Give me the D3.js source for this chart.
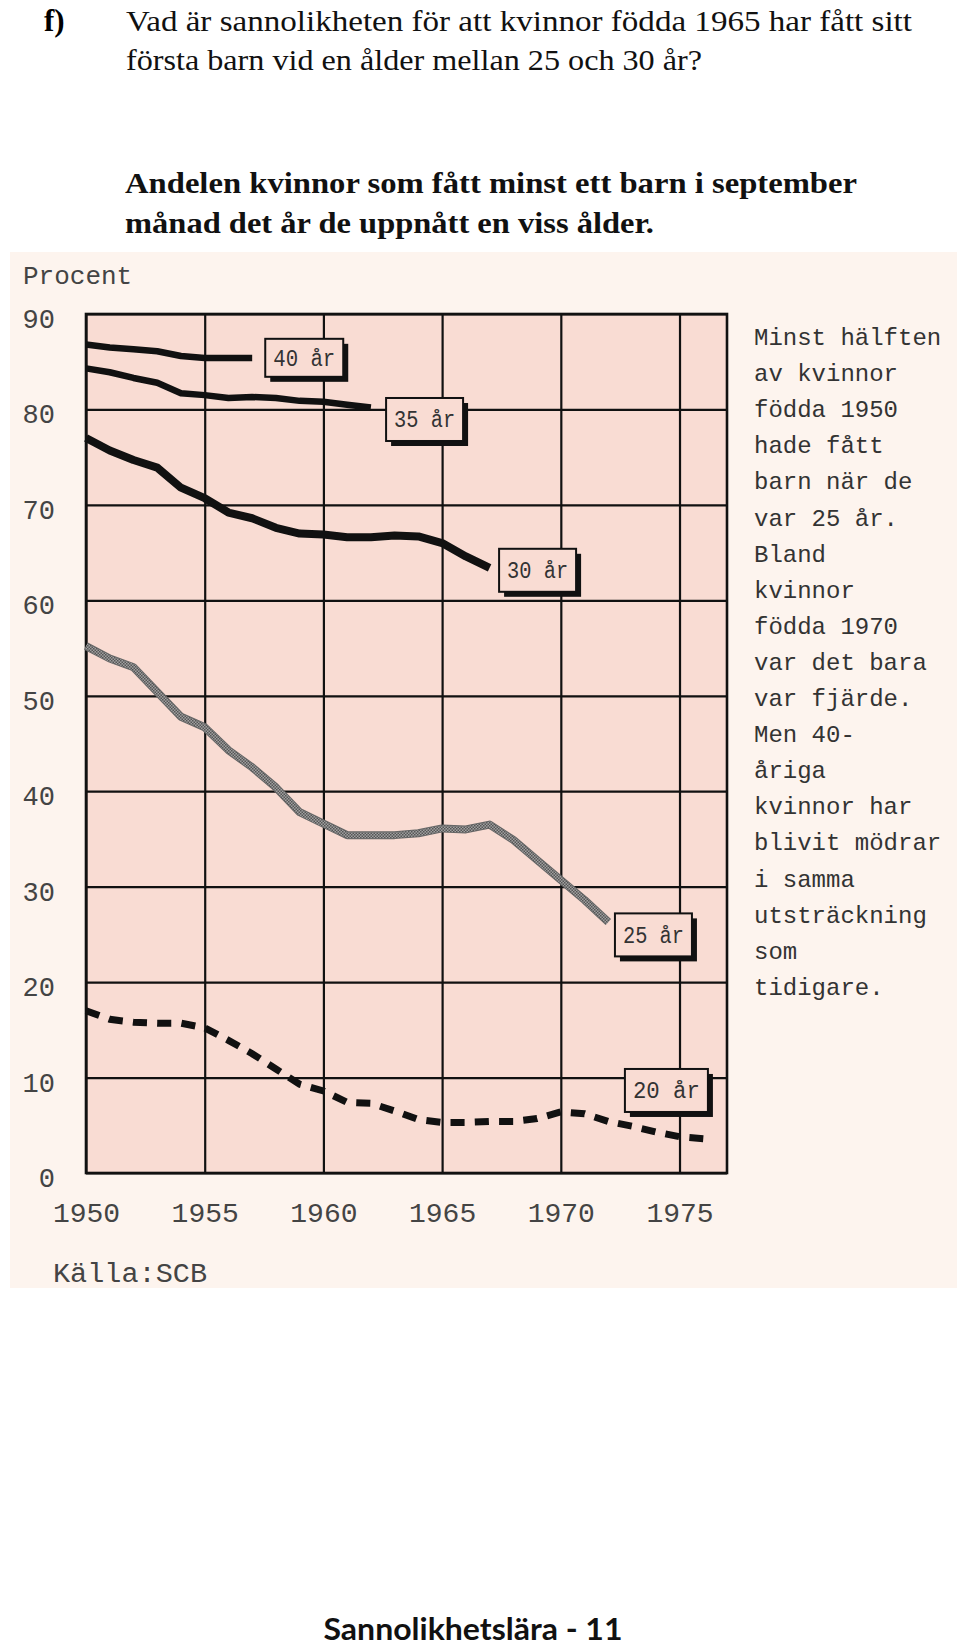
<!DOCTYPE html>
<html><head><meta charset="utf-8">
<script src="https://cdn.jsdelivr.net/npm/d3@7"></script>
<style>html,body{margin:0;padding:0;background:#fff;} svg{display:block;}</style>
</head><body>
<svg id="c" width="960" height="1649"></svg>
<script>
// ---------- data ----------
const years = [1950,1951,1952,1953,1954,1955,1956,1957,1958,1959,1960,1961,1962,1963,1964,1965,1966,1967,1968,1969,1970,1971,1972,1973,1974,1975,1976];
const tickYears = [1950,1955,1960,1965,1970,1975];
const tickValues = [0,10,20,30,40,50,60,70,80,90];
const ageLabels = ["40 år","35 år","30 år","25 år","20 år"];
// percent of women with at least one child, by birth year, at given age
const v40 = [86.8,86.5,86.3,86.1,85.6,85.4,85.4,85.4];
const v35 = [84.3,83.9,83.3,82.8,81.7,81.5,81.2,81.3,81.2,80.9,80.8,80.5,80.2];
const v30 = [77.0,75.7,74.7,73.9,71.8,70.7,69.2,68.6,67.6,67.0,66.9,66.6,66.6,66.8,66.7,66.0,64.6,63.4];
const v25 = [55.2,53.9,53.0,50.4,47.8,46.7,44.3,42.5,40.4,37.8,36.6,35.4,35.4,35.4,35.6,36.1,36.0,36.5,34.9,32.8,30.7,28.6,26.3];
const v20 = [17.0,16.1,15.8,15.7,15.7,15.2,13.9,12.5,10.9,9.3,8.6,7.4,7.3,6.5,5.6,5.3,5.3,5.4,5.4,5.7,6.4,6.2,5.4,4.9,4.3,3.8,3.6];
const questionLines = ["Vad är sannolikheten för att kvinnor födda 1965 har fått sitt","första barn vid en ålder mellan 25 och 30 år?"];
const captionLines = ["Andelen kvinnor som fått minst ett barn i september","månad det år de uppnått en viss ålder."];
const noteLines = ["Minst hälften","av kvinnor","födda 1950","hade fått","barn när de","var 25 år.","Bland","kvinnor","födda 1970","var det bara","var fjärde.","Men 40-","åriga","kvinnor har","blivit mödrar","i samma","utsträckning","som","tidigare."];

// ---------- layout ----------
const svg = d3.select("#c");
const L = 86, R = 727, T = 314, B = 1173;
const x = d3.scaleLinear().domain([1950, 1977]).range([L, R]);
const y = d3.scaleLinear().domain([0, 90]).range([B, T]);
const mono = "'Liberation Mono', 'DejaVu Sans Mono', monospace";
const serif = "'Liberation Serif', 'DejaVu Serif', serif";

// defs: halftone pattern for the grey line
const defs = svg.append("defs");
const pat = defs.append("pattern").attr("id","half").attr("width",3).attr("height",3).attr("patternUnits","userSpaceOnUse");
pat.append("rect").attr("width",3).attr("height",3).attr("fill","#a0a0a0");
pat.append("rect").attr("width",1.5).attr("height",1.5).attr("fill","#555");
pat.append("rect").attr("x",1.5).attr("y",1.5).attr("width",1.5).attr("height",1.5).attr("fill","#555");

// page texts
svg.append("text").attr("x",44).attr("y",31).attr("font-family",serif).attr("font-size",31).attr("font-weight","bold").text("f)");
const qW = [786, 576];
questionLines.forEach((t,i)=>{
  svg.append("text").attr("x",126).attr("y",31+i*39).attr("font-family",serif).attr("font-size",30)
    .attr("textLength",qW[i]).attr("lengthAdjust","spacingAndGlyphs").attr("fill","#111").text(t);
});

// chart panel
svg.append("rect").attr("x",10).attr("y",252).attr("width",947).attr("height",1036).attr("fill","#fdf4ee");

const cW = [732, 529];
captionLines.forEach((t,i)=>{
  svg.append("text").attr("x",125).attr("y",193+i*40).attr("font-family",serif).attr("font-size",29).attr("font-weight","bold")
    .attr("textLength",cW[i]).attr("lengthAdjust","spacingAndGlyphs").attr("fill","#111").text(t);
});

svg.append("text").attr("x",23).attr("y",284).attr("font-family",mono).attr("font-size",26).attr("fill","#444").text("Procent");

// plot background
svg.append("rect").attr("x",L).attr("y",T).attr("width",R-L).attr("height",B-T).attr("fill","#f9dcd3");

// grid via axes
const yAxis = svg.append("g").attr("transform",`translate(${L},0)`)
  .call(d3.axisLeft(y).tickValues(tickValues).tickSize(-(R-L)).tickPadding(31).tickFormat(d3.format("d")));
const xAxis = svg.append("g").attr("transform",`translate(0,${B})`)
  .call(d3.axisBottom(x).tickValues(tickYears).tickSize(-(B-T)).tickPadding(29).tickFormat(d3.format("d")));
[yAxis, xAxis].forEach(g=>{
  g.select(".domain").remove();
  g.selectAll(".tick line").attr("stroke","#111").attr("stroke-width",2.2);
  g.selectAll(".tick text").attr("font-family",mono).attr("fill","#444");
});
yAxis.selectAll(".tick text").attr("font-size",27).attr("dy","0.5em");
xAxis.selectAll(".tick text").attr("font-size",28);

// frame
svg.append("rect").attr("x",L).attr("y",T).attr("width",R-L).attr("height",B-T).attr("fill","none").attr("stroke","#111").attr("stroke-width",2.6);

// series
const line = d3.line().x(d=>x(d[0])).y(d=>y(d[1])).curve(d3.curveLinear);
const pts = v => v.map((val,i)=>[years[i], val]);
svg.append("path").attr("d",line(pts(v40))).attr("fill","none").attr("stroke","#111").attr("stroke-width",6.5).attr("stroke-linejoin","round");
svg.append("path").attr("d",line(pts(v35))).attr("fill","none").attr("stroke","#111").attr("stroke-width",6.5).attr("stroke-linejoin","round");
svg.append("path").attr("d",line(pts(v30))).attr("fill","none").attr("stroke","#111").attr("stroke-width",8).attr("stroke-linejoin","round");
svg.append("path").attr("d",line(pts(v25))).attr("fill","none").attr("stroke","#666").attr("stroke-width",8).attr("stroke-linejoin","round");
svg.append("path").attr("d",line(pts(v25))).attr("fill","none").attr("stroke","url(#half)").attr("stroke-width",6).attr("stroke-linejoin","round");
const p20 = svg.append("path").attr("d",line(pts(v20))).attr("fill","none").attr("stroke","#111").attr("stroke-width",7);
const len20 = p20.node().getTotalLength();
const n20 = v20.length - 1;
const period = len20 / (n20 + 0.58);
p20.attr("stroke-dasharray", `${(period*0.58).toFixed(2)},${(period*0.42).toFixed(2)}`);

// label boxes (anchored in data space: top-left corner)
const boxes = [
  {t:ageLabels[0], yr:1957.55, v:87.4, w:78, h:38},
  {t:ageLabels[1], yr:1962.64, v:81.2, w:77, h:43},
  {t:ageLabels[2], yr:1967.4,  v:65.4, w:77, h:43},
  {t:ageLabels[3], yr:1972.28, v:27.2, w:77, h:43},
  {t:ageLabels[4], yr:1972.7,  v:10.9, w:83, h:43}
];
boxes.forEach(b=>{
  const bx = x(b.yr), by = y(b.v);
  svg.append("rect").attr("x",bx+5).attr("y",by+5).attr("width",b.w).attr("height",b.h).attr("fill","#111");
  svg.append("rect").attr("x",bx).attr("y",by).attr("width",b.w).attr("height",b.h).attr("fill","#f9dcd3").attr("stroke","#111").attr("stroke-width",2);
  svg.append("text").attr("x",bx+b.w/2).attr("y",by+b.h/2+8).attr("text-anchor","middle")
    .attr("font-family",mono).attr("font-size",23).attr("fill","#333")
    .attr("textLength",b.w-16).attr("lengthAdjust","spacingAndGlyphs").text(b.t);
});

// side note
noteLines.forEach((t,i)=>{
  svg.append("text").attr("x",754).attr("y",345+i*36.1).attr("font-family",mono).attr("font-size",24).attr("fill","#333").text(t);
});

// source
svg.append("text").attr("x",53).attr("y",1282).attr("font-family",mono).attr("font-size",27).attr("fill","#444")
  .attr("textLength",154).attr("lengthAdjust","spacingAndGlyphs").text("Källa:SCB");

// footer
svg.append("text").attr("x",473).attr("y",1640).attr("text-anchor","middle").attr("font-family","Lato, 'Noto Sans', sans-serif")
  .attr("font-size",31).attr("font-weight","bold").attr("fill","#111")
  .attr("textLength",299).attr("lengthAdjust","spacingAndGlyphs").text("Sannolikhetslära - 11");
</script>
</body></html>
